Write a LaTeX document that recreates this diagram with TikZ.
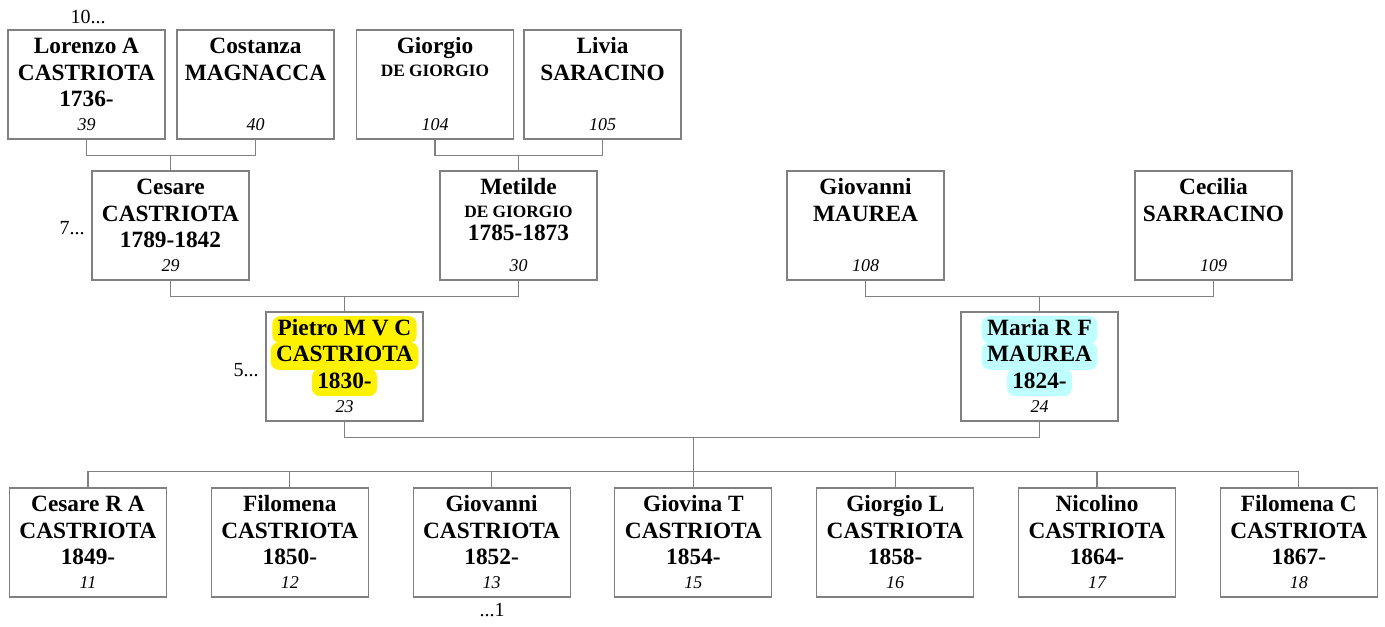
\documentclass[tikz,border=0pt]{standalone}
\usepackage{fontspec}
\setmainfont{Liberation Serif}
\usetikzlibrary{calc}
\definecolor{grisL}{HTML}{808080}
\definecolor{cianM}{HTML}{C0FFFF}

\begin{document}
\begin{tikzpicture}[x=0.75pt,y=-0.75pt,
  pbox/.style={draw=grisL,line width=0.8pt,minimum width=117.75pt,minimum height=81.75pt,inner sep=0pt},
  pname/.style={anchor=north,inner sep=0pt,align=center,font=\fontsize{17.5}{19.75}\selectfont\bfseries},
  pnum/.style={anchor=base,inner sep=0pt,font=\fontsize{13.5}{16}\selectfont\itshape},
  hl/.style={anchor=base,inner xsep=4pt,inner ysep=0pt,text height=14.5pt,text depth=6pt,
    rounded corners=6pt,font=\fontsize{17.5}{19.75}\selectfont\bfseries},
  gen/.style={inner sep=0pt,font=\fontsize{15}{18}\selectfont},
  link/.style={draw=grisL,line width=0.8pt}]
  \useasboundingbox (0,0) rectangle (1385,626);
  % generazione 4
  \node[pbox] (lorenzo) at (86.5,84.5) {};
  \node[pname] at (lorenzo.north) {\rule{0pt}{18pt}Lorenzo A\\CASTRIOTA\\1736-};
  \node[pnum] at ([yshift=-75.5pt]lorenzo.north) {39};
  \node[pbox] (costanza) at (255.5,84.5) {};
  \node[pname] at (costanza.north) {\rule{0pt}{18pt}Costanza\\MAGNACCA};
  \node[pnum] at ([yshift=-75.5pt]costanza.north) {40};
  \node[pbox] (giorgio) at (435,84.5) {};
  \node[pname] at (giorgio.north) {\rule{0pt}{18pt}Giorgio\\[-2.5pt]{\fontsize{13}{15}\selectfont DE GIORGIO}};
  \node[pnum] at ([yshift=-75.5pt]giorgio.north) {104};
  \node[pbox] (livia) at (602.5,84.5) {};
  \node[pname] at (livia.north) {\rule{0pt}{18pt}Livia\\SARACINO};
  \node[pnum] at ([yshift=-75.5pt]livia.north) {105};
  \node[gen] (g10) at (88,17) {10...};
  % generazione 3
  \node[pbox] (cesare) at (170.5,225.5) {};
  \node[pname] at (cesare.north) {\rule{0pt}{18pt}Cesare\\CASTRIOTA\\1789-1842};
  \node[pnum] at ([yshift=-75.5pt]cesare.north) {29};
  \node[pbox] (metilde) at (518.5,225.5) {};
  \node[pname] at (metilde.north) {\rule{0pt}{18pt}Metilde\\[-2.5pt]{\fontsize{13}{15}\selectfont DE GIORGIO}\\[-2.5pt]1785-1873};
  \node[pnum] at ([yshift=-75.5pt]metilde.north) {30};
  \node[pbox] (giovanniM) at (865.5,225.5) {};
  \node[pname] at (giovanniM.north) {\rule{0pt}{18pt}Giovanni\\MAUREA};
  \node[pnum] at ([yshift=-75.5pt]giovanniM.north) {108};
  \node[pbox] (cecilia) at (1213.5,225.5) {};
  \node[pname] at (cecilia.north) {\rule{0pt}{18pt}Cecilia\\SARRACINO};
  \node[pnum] at ([yshift=-75.5pt]cecilia.north) {109};
  \node[gen] (g7) at (72,228) {7...};
  % genitori
  \node[pbox] (pietro) at (344.5,366.5) {};
  \foreach \t [count=\i from 0] in {Pietro M V C,CASTRIOTA,1830-}
    \node[hl,fill=yellow] at ([yshift={-18pt-\i*19.75pt}]pietro.north) {\t};
  \node[pnum] at ([yshift=-75.5pt]pietro.north) {23};
  \node[pbox] (maria) at (1039.5,366.5) {};
  \foreach \t [count=\i from 0] in {Maria R F,MAUREA,1824-}
    \node[hl,fill=cianM] at ([yshift={-18pt-\i*19.75pt}]maria.north) {\t};
  \node[pnum] at ([yshift=-75.5pt]maria.north) {24};
  \node[gen] (g5) at (246,370) {5...};
  % figli
  \foreach \nom/\any/\num [count=\i from 0] in {Cesare R A/1849-/11,Filomena/1850-/12,
      Giovanni/1852-/13,Giovina T/1854-/15,Giorgio L/1858-/16,Nicolino/1864-/17,Filomena C/1867-/18} {
    \node[pbox] (f\i) at (88+201.8*\i,542.5) {};
    \node[pname] at (f\i.north) {\rule{0pt}{18pt}\nom\\CASTRIOTA\\\any};
    \node[pnum] at ([yshift=-75.5pt]f\i.north) {\num};
    \draw[link] (f\i.north) -- ++(0,-16) coordinate (t\i);
  }
  \draw[link] (t0) -- (t6);
  \node[gen] (g1) at (492,610) {...1};
  % legami
  \draw[link] (lorenzo.south) -- ++(0,16) coordinate (lc) -| (costanza.south);
  \draw[link] (cesare.north) -- (cesare.north |- lc);
  \draw[link] (giorgio.south) -- ++(0,16) coordinate (gl) -| (livia.south);
  \draw[link] (metilde.north) -- (metilde.north |- gl);
  \draw[link] (cesare.south) -- ++(0,16) coordinate (cm) -| (metilde.south);
  \draw[link] (pietro.north) -- (pietro.north |- cm);
  \draw[link] (giovanniM.south) -- ++(0,16) coordinate (gc) -| (cecilia.south);
  \draw[link] (maria.north) -- (maria.north |- gc);
  \draw[link] (pietro.south) -- ++(0,16) coordinate (pm) -| (maria.south);
  \draw[link] (t3) -- (t3 |- pm);
\end{tikzpicture}
\end{document}
